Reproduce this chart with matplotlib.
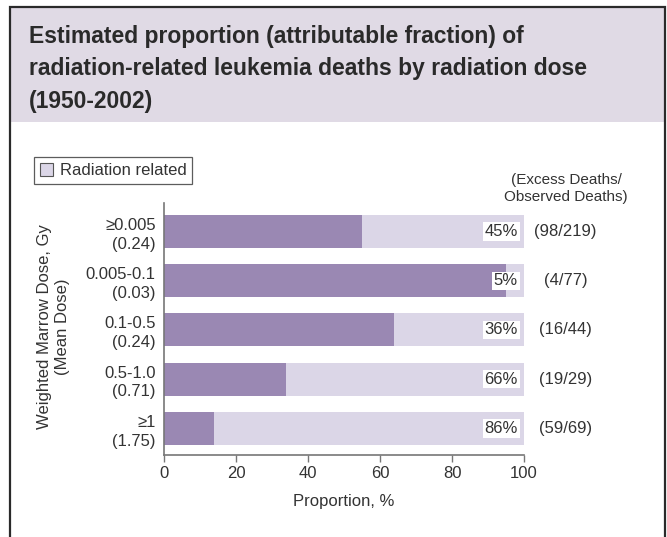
import matplotlib
matplotlib.use("Agg")
import matplotlib.pyplot as plt
from matplotlib.patches import Rectangle, Patch
from matplotlib import font_manager as fm

# ---- data ----
dose_groups = ["≥0.005\n(0.24)", "0.005-0.1\n(0.03)", "0.1-0.5\n(0.24)", "0.5-1.0\n(0.71)", "≥1\n(1.75)"]
radiation_related = [45, 5, 36, 66, 86]          # percent attributable
excess_observed = ["(98/219)", "(4/77)", "(16/44)", "(19/29)", "(59/69)"]
x_ticks = [0, 20, 40, 60, 80, 100]

names = {f.name for f in fm.fontManager.ttflist}
body_font = "Liberation Sans" if "Liberation Sans" in names else "DejaVu Sans"
title_font = "Liberation Sans Narrow" if "Liberation Sans Narrow" in names else body_font

plt.rcParams['font.family'] = [body_font, 'DejaVu Sans']
TXT = '#333333'
DARK = '#9A88B3'
LIGHT = '#DBD6E7'
TITLEBG = '#E0DAE5'

W, H = 667, 537
fig = plt.figure(figsize=(W / 100, H / 100), dpi=100)

def fx(px):
    return px / W

def fy(py):
    return 1 - py / H

# outer frame and title band
fig.patches.append(Rectangle((fx(10), fy(122)), fx(665) - fx(10), fy(7) - fy(122),
                             transform=fig.transFigure, facecolor=TITLEBG, edgecolor='none', zorder=0))
fig.patches.append(Rectangle((fx(10), fy(545)), fx(665) - fx(10), fy(7) - fy(545),
                             transform=fig.transFigure, facecolor='none', edgecolor='#2a2a2a',
                             linewidth=1.6, zorder=5))

title_lines = ["Estimated proportion (attributable fraction) of",
               "radiation-related leukemia deaths by radiation dose",
               "(1950-2002)"]
for i, line in enumerate(title_lines):
    fig.text(fx(29), fy(43 + 32.5 * i), line, fontsize=16.5, fontweight='bold',
             family=[title_font, 'DejaVu Sans'], color='#2a2a2a', va='baseline', ha='left')

# axes
ax = fig.add_axes([fx(164), fy(455), fx(524) - fx(164), fy(203) - fy(455)])
ypos = list(range(len(dose_groups)))
non_rel = [100 - r for r in radiation_related]
ax.barh(ypos, non_rel, height=0.67, color=DARK, zorder=2)
ax.barh(ypos, radiation_related, left=non_rel, height=0.67, color=LIGHT, zorder=2)
ax.set_xlim(0, 100)
ax.set_ylim(4.54, -0.58)
ax.set_yticks(ypos)
ax.set_yticklabels(dose_groups, fontsize=12, color=TXT, linespacing=1.3)
ax.tick_params(axis='y', length=0, pad=6)
ax.set_xticks(x_ticks)
ax.set_xticklabels([str(t) for t in x_ticks], fontsize=12, color=TXT)
ax.tick_params(axis='x', length=5, color='#777777', width=1, pad=3)
for s in ['top', 'right']:
    ax.spines[s].set_visible(False)
for s in ['left', 'bottom']:
    ax.spines[s].set_color('#777777')
    ax.spines[s].set_linewidth(1.2)
ax.set_xlabel("Proportion, %", fontsize=12, color=TXT, labelpad=9)

for y, r, eo in zip(ypos, radiation_related, excess_observed):
    ax.text(98.3, y, f"{r}%", ha='right', va='center', fontsize=12, color=TXT, zorder=4,
            bbox=dict(boxstyle='square,pad=0.1', facecolor='white', edgecolor='none'))
    ax.text(111.5, y, eo, ha='center', va='center', fontsize=12, color=TXT, clip_on=False)

fig.text(fx(566), fy(188.5), "(Excess Deaths/\nObserved Deaths)", ha='center', va='center',
         fontsize=11, color=TXT, linespacing=1.2)

fig.text(fx(54), fy(327), "Weighted Marrow Dose, Gy\n(Mean Dose)", rotation=90,
         ha='center', va='center', fontsize=12, color=TXT, linespacing=1.25)

leg = fig.legend(handles=[Patch(facecolor=LIGHT, edgecolor='#555555', linewidth=0.8)],
                 labels=["Radiation related"], loc='upper left',
                 bbox_to_anchor=(fx(34), fy(157)), bbox_transform=fig.transFigure,
                 frameon=True, fancybox=False, fontsize=12, handlelength=0.8, handleheight=0.8,
                 handletextpad=0.4, borderpad=0.35, borderaxespad=0)
leg.get_frame().set_edgecolor('#333333')
leg.get_frame().set_linewidth(0.9)
for t in leg.get_texts():
    t.set_color(TXT)

fig.savefig("out.png", dpi=100)
